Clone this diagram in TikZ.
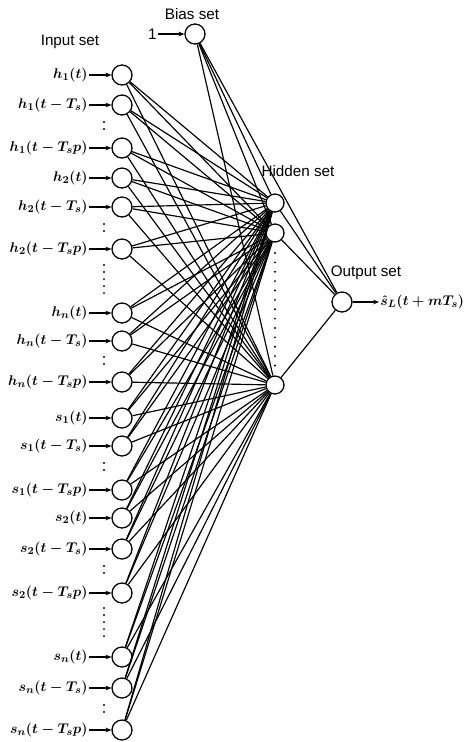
\documentclass[tikz,border=0pt]{standalone}
\usepackage{fontspec}
\newfontfamily\titlefont{Liberation Sans}
\usepackage{tikz}
\usetikzlibrary{arrows.meta, positioning}

\begin{document}
\begin{tikzpicture}[
        x=0.03cm, y=-0.03cm,
        neuron/.style={circle, draw, line width=1.1pt, minimum size=0.6cm, inner sep=0pt},
        hidNeuron/.style={neuron, minimum size=0.54cm},
        inLabel/.style={anchor=east, inner sep=1pt, font=\fontsize{13}{15}\selectfont\boldmath},
        setTitle/.style={font=\titlefont\fontsize{13}{15}\selectfont},
        feed/.style={-{Stealth[length=5pt, width=4pt]}, line width=1.1pt},
        wire/.style={line width=1pt},
        dotCol/.style={line width=1.8pt, line cap=round, dash pattern=on 0pt off 6pt}
    ]
        \useasboundingbox (0,0) rectangle (466,742);

        \foreach \y/\lab [count=\i] in {75/{h_1(t)}, 105/{h_1(t-T_s)}, 148/{h_1(t-T_sp)},
                178/{h_2(t)}, 207/{h_2(t-T_s)}, 249/{h_2(t-T_sp)},
                313/{h_n(t)}, 341/{h_n(t-T_s)}, 382/{h_n(t-T_sp)},
                418/{s_1(t)}, 446/{s_1(t-T_s)}, 490/{s_1(t-T_sp)},
                518/{s_2(t)}, 549/{s_2(t-T_s)}, 593/{s_2(t-T_sp)},
                657/{s_n(t)}, 688/{s_n(t-T_s)}, 730/{s_n(t-T_sp)}} {
            \node[neuron] (in\i) at (122,\y) {};
            \node[inLabel] (lab\i) at (89,\y) {$\lab$};
            \draw[feed] (lab\i) -- (in\i);
        }

        \foreach \ya/\yb in {122/132, 224/234, 265/298, 357/367, 463/473, 566/576, 608/642, 705/715}
            \draw[dotCol] (104,\ya) -- (104,\yb);

        \node[neuron] (bias) at (195,34) {};
        \node[setTitle, anchor=east, inner sep=1pt] (one) at (158,34) {1};
        \draw[feed] (one) -- (bias);

        \node[hidNeuron] (hid1) at (275,203) {};
        \node[hidNeuron] (hid2) at (275,233) {};
        \node[hidNeuron] (hid3) at (275,385) {};
        \draw[dotCol, dash pattern=on 0pt off 8pt] (275,253) -- (275,368);

        \node[neuron] (out) at (342,302) {};
        \node[inLabel, anchor=west] (pred) at (379,302) {$\hat{s}_L(t+mT_s)$};
        \draw[feed] (out) -- (pred);

        \foreach \i in {1,...,18}
            \foreach \j in {1,2,3}
                \draw[wire] (in\i) -- (hid\j);
        \foreach \j in {1,2,3} {
            \draw[wire] (bias) -- (hid\j);
            \draw[wire] (hid\j) -- (out);
        }
        \draw[wire] (bias) -- (out);

        \node[setTitle] (inTitle) at (70,42) {Input set};
        \node[setTitle] (biasTitle) at (192,14) {Bias set};
        \node[setTitle] (hidTitle) at (298,171) {Hidden set};
        \node[setTitle] (outTitle) at (366,273) {Output set};
    \end{tikzpicture}
\end{document}
